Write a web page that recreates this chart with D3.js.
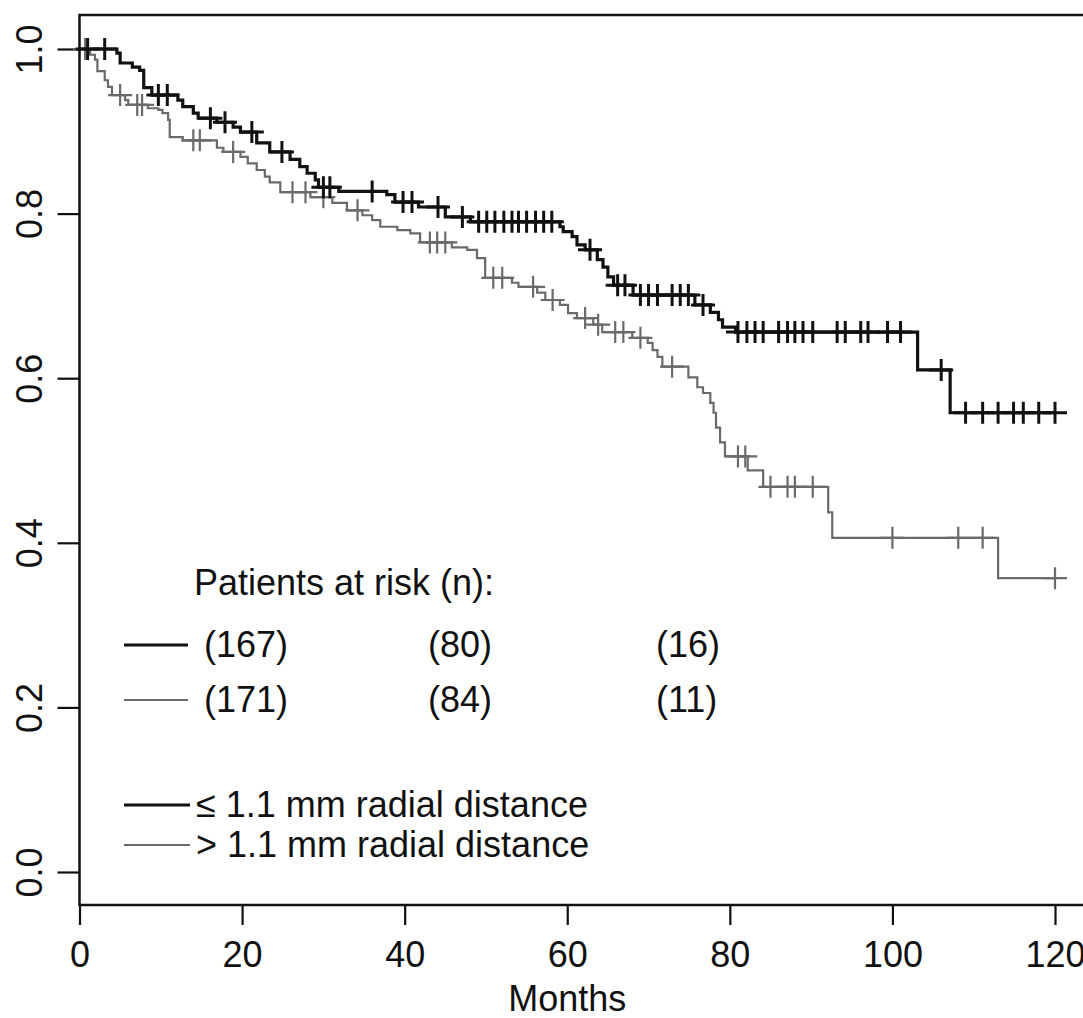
<!DOCTYPE html>
<html>
<head>
<meta charset="utf-8">
<script src="https://cdn.jsdelivr.net/npm/d3@7"></script>
<style>
  html, body { margin: 0; padding: 0; background: #fff; }
  svg { display: block; }
  text { font-family: 'Liberation Sans', Arial, Helvetica, sans-serif; fill: #111; }
</style>
</head>
<body>
<svg width="1083" height="1018"></svg>
<script>
// survival steps (months, survival after the step)
const shortTimes = [4.6, 5.0, 6.5, 7.4, 7.9, 8.9, 12.1, 12.7, 14.0, 14.6, 16.9, 18.9, 19.8, 21.8, 23.4,
  25.9, 27.1, 28.0, 29.0, 29.4, 31.9, 37.8, 38.8, 41.7, 45.0, 48.1, 59.1, 59.5, 60.6, 61.2, 62.2,
  63.7, 64.4, 65.0, 65.7, 68.1, 75.7, 77.6, 78.6, 79.1, 80.7, 103.1, 107.1]
const shortSurv = [0.995, 0.983, 0.978, 0.974, 0.953, 0.944, 0.938, 0.930, 0.922, 0.916, 0.911, 0.905, 0.899, 0.886, 0.875,
  0.866, 0.857, 0.849, 0.841, 0.832, 0.827, 0.823, 0.814, 0.808, 0.796, 0.790, 0.784, 0.778, 0.772, 0.762, 0.756,
  0.744, 0.735, 0.723, 0.713, 0.701, 0.689, 0.680, 0.671, 0.662, 0.656, 0.610, 0.558]
const shortCensor = [1.0, 3.1, 9.7, 10.8, 16.1, 17.9, 21.2, 24.9, 30.0, 30.8, 36.0, 39.8, 40.9, 44.1, 47.1,
  49.1, 50.1, 51.1, 52.2, 53.2, 54.0, 55.0, 56.1, 57.1, 58.1, 62.8, 66.2, 67.1, 69.0, 70.0, 71.1,
  72.9, 73.9, 74.9, 76.7, 81.0, 82.1, 83.1, 84.1, 86.0, 87.1, 88.0, 89.0, 90.2, 93.2, 94.2, 96.1,
  97.0, 99.4, 101.0, 106.0, 109.0, 111.1, 113.0, 114.9, 116.1, 118.0, 120.0]

const longTimes = [1.3, 1.9, 2.2, 3.1, 3.5, 4.0, 5.6, 6.0, 8.4, 9.7, 10.2, 10.9, 11.1, 12.7, 16.9, 17.7,
  19.8, 20.7, 21.8, 22.8, 23.4, 24.7, 28.4, 31.1, 32.9, 34.8, 36.0, 37.0, 39.1, 40.7, 41.9, 45.8,
  47.7, 48.9, 49.9, 53.2, 54.0, 56.3, 57.3, 59.1, 60.1, 61.2, 63.2, 64.3, 68.0, 69.9, 70.5, 71.1,
  71.7, 74.9, 76.0, 76.7, 77.6, 78.0, 78.3, 78.8, 79.4, 82.2, 84.1, 92.1, 92.6, 113.0]
const longSurv = [0.993, 0.987, 0.973, 0.962, 0.954, 0.944, 0.938, 0.932, 0.928, 0.926, 0.922, 0.914, 0.893, 0.889, 0.880, 0.875,
  0.869, 0.861, 0.853, 0.845, 0.838, 0.826, 0.820, 0.813, 0.804, 0.798, 0.792, 0.784, 0.780, 0.776, 0.765, 0.759,
  0.756, 0.746, 0.722, 0.716, 0.711, 0.704, 0.695, 0.689, 0.679, 0.673, 0.665, 0.656, 0.649, 0.643, 0.634, 0.626,
  0.614, 0.601, 0.589, 0.582, 0.570, 0.558, 0.540, 0.522, 0.505, 0.488, 0.468, 0.437, 0.406, 0.357]
const longCensor = [0.7, 5.0, 7.1, 7.7, 14.0, 14.8, 18.9, 26.2, 27.8, 30.0, 34.2, 43.1, 44.0, 45.0, 50.9,
  52.0, 55.8, 58.2, 62.2, 63.8, 65.9, 66.9, 69.0, 72.9, 81.0, 81.9, 85.0, 87.1, 88.0, 90.2, 100.0,
  108.1, 111.1, 120.0]

const riskShort = ['(167)', '(80)', '(16)']
const riskLong = ['(171)', '(84)', '(11)']
const groupLabels = ['\u2264 1.1 mm radial distance', '> 1.1 mm radial distance']
const xTicks = [0, 20, 40, 60, 80, 100, 120]
const yTicks = [0, 0.2, 0.4, 0.6, 0.8, 1.0]
const maxTime = 120

const svg = d3.select('svg')
const frame = { left: 79.5, top: 15, right: 1100, bottom: 905 }
const x = d3.scaleLinear().domain([0, 120]).range([79.5, 1055])
const y = d3.scaleLinear().domain([0, 1]).range([872, 49])

const styles = [
  { color: '#111', width: 3.2, tick: 3 },
  { color: '#6a6a6a', width: 2.2, tick: 2.2 }
]

// frame
svg.append('rect')
    .attr('x', frame.left).attr('y', frame.top)
    .attr('width', frame.right - frame.left).attr('height', frame.bottom - frame.top)
    .attr('fill', 'none').attr('stroke', '#111').attr('stroke-width', 2.5)

// axes
const xAxis = svg.append('g')
    .attr('transform', `translate(0, ${frame.bottom})`)
    .call(d3.axisBottom(x).tickValues(xTicks).tickSize(20).tickSizeOuter(0).tickPadding(16))
xAxis.select('.domain').remove()
xAxis.selectAll('line').attr('stroke', '#111').attr('stroke-width', 2.2)
xAxis.selectAll('text').attr('font-size', 36).attr('fill', '#111')

const yAxis = svg.append('g')
    .attr('transform', `translate(${frame.left}, 0)`)
    .call(d3.axisLeft(y).tickValues(yTicks).tickSize(22).tickFormat(d3.format('.1f')))
yAxis.select('.domain').remove()
yAxis.selectAll('line').attr('stroke', '#111').attr('stroke-width', 2.2)
yAxis.selectAll('text')
    .attr('font-size', 36).attr('fill', '#111')
    .attr('text-anchor', 'middle')
    .attr('transform', 'rotate(-90)')
    .attr('x', 0).attr('y', -38).attr('dy', 0)

svg.append('text')
    .attr('x', x(60)).attr('y', 1011)
    .attr('text-anchor', 'middle').attr('font-size', 36)
    .text('Months')

// curves
function stepData(times, surv) {
  const pts = [[0, 1]]
  times.forEach((t, i) => pts.push([t, surv[i]]))
  pts.push([maxTime, surv[surv.length - 1]])
  return pts
}
function survAt(times, surv, t) {
  const i = d3.bisectRight(times, t)
  return i === 0 ? 1 : surv[i - 1]
}

const line = d3.line()
    .x(d => x(d[0]))
    .y(d => y(d[1]))
    .curve(d3.curveStepAfter)

const groups = [
  { times: shortTimes, surv: shortSurv, censor: shortCensor },
  { times: longTimes, surv: longSurv, censor: longCensor }
]

// grey first so black sits on top
;[1, 0].forEach(gi => {
  const g = groups[gi]
  const st = styles[gi]
  svg.append('path')
      .attr('d', line(stepData(g.times, g.surv)))
      .attr('fill', 'none')
      .attr('stroke', st.color)
      .attr('stroke-width', st.width)
      .attr('stroke-linejoin', 'miter')

  svg.append('g')
    .selectAll('path')
    .data(g.censor)
    .join('path')
      .attr('d', t => {
        const cx = x(t), cy = y(survAt(g.times, g.surv, t))
        return `M${cx - 12},${cy}H${cx + 12}M${cx},${cy - 11}V${cy + 11}`
      })
      .attr('stroke', st.color)
      .attr('stroke-width', st.tick)
})

// patients at risk
svg.append('text')
    .attr('x', 194).attr('y', 595).attr('font-size', 36)
    .text('Patients at risk (n):')

const riskX = [204, 428, 656]
const riskRows = [
  { y: 645, base: 657, labels: riskShort },
  { y: 700, base: 712, labels: riskLong }
]
riskRows.forEach((r, i) => {
  svg.append('line')
      .attr('x1', 124).attr('x2', 188).attr('y1', r.y).attr('y2', r.y)
      .attr('stroke', styles[i].color).attr('stroke-width', styles[i].width)
  svg.append('g')
    .selectAll('text')
    .data(r.labels)
    .join('text')
      .attr('x', (d, j) => riskX[j]).attr('y', r.base)
      .attr('font-size', 36)
      .text(d => d)
})

// group legend
const legendY = [805, 845]
groupLabels.forEach((lab, i) => {
  svg.append('line')
      .attr('x1', 124).attr('x2', 190).attr('y1', legendY[i]).attr('y2', legendY[i])
      .attr('stroke', styles[i].color).attr('stroke-width', styles[i].width)
  svg.append('text')
      .attr('x', 196).attr('y', legendY[i] + 12)
      .attr('font-size', 36)
      .text(lab)
})
</script>
</body>
</html>
